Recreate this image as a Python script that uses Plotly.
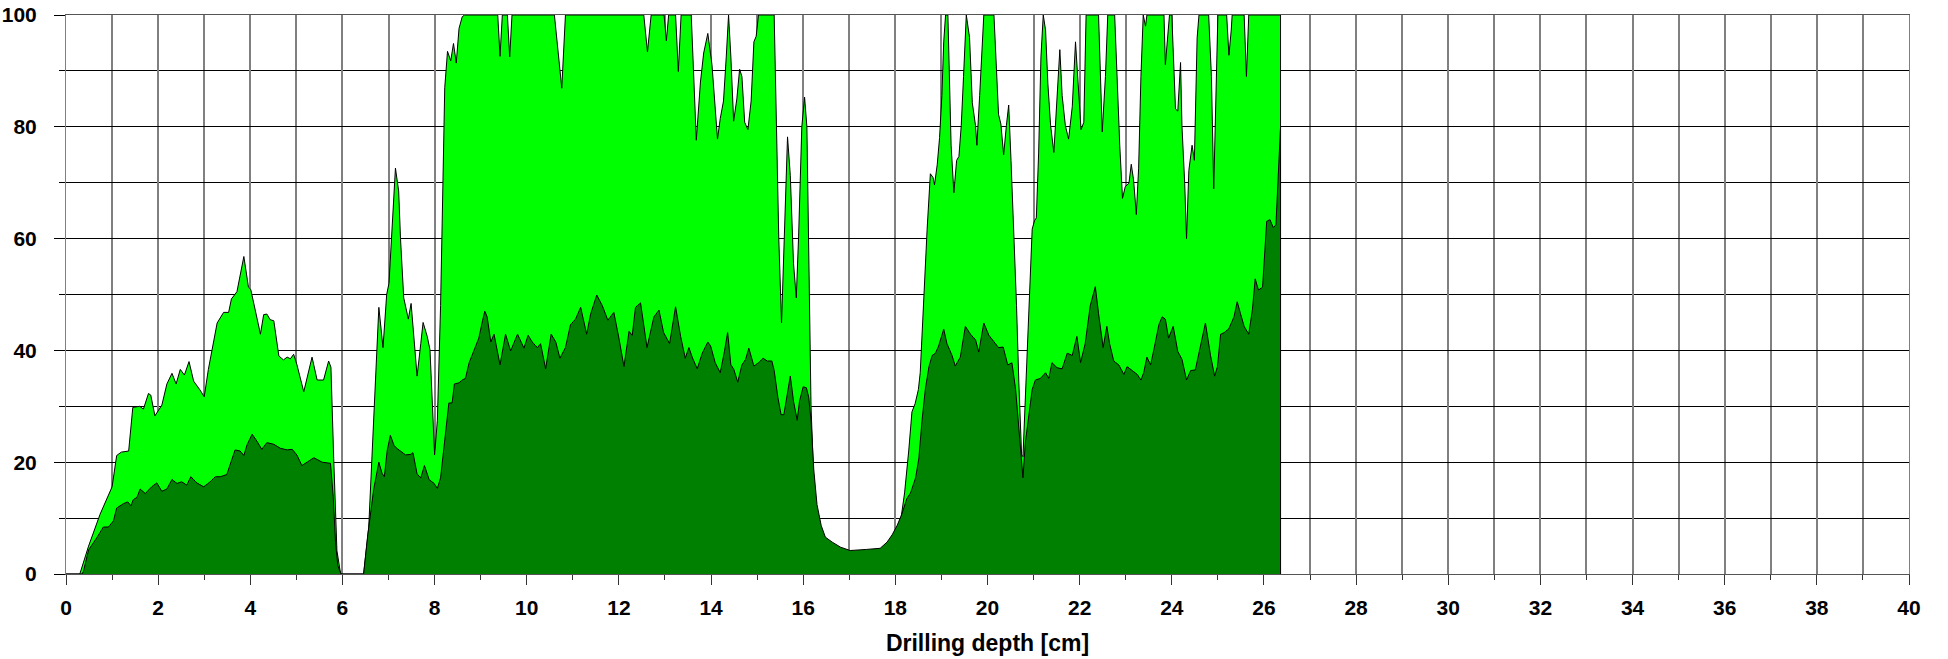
import plotly.graph_objects as go

# Light green series (upper envelope), depth [cm] and value
light_x = [0.0, 0.30, 0.49, 0.74, 1.0, 1.1, 1.2, 1.36, 1.45, 1.6, 1.68, 1.79, 1.84, 1.93, 2.08, 2.19, 2.3, 2.39,
           2.48, 2.57, 2.67, 2.77, 2.91, 3.0, 3.09, 3.28, 3.42, 3.53, 3.59, 3.71, 3.86, 3.96, 4.01, 4.11, 4.22,
           4.29, 4.36, 4.43, 4.51, 4.62, 4.72, 4.8, 4.87, 4.94, 5.01, 5.16, 5.34, 5.45, 5.59, 5.7, 5.75, 5.81,
           5.88, 5.96, 6.46, 6.57, 6.68, 6.79, 6.88, 6.96, 7.01, 7.04, 7.1, 7.15, 7.22, 7.26, 7.33, 7.43, 7.49,
           7.55, 7.62, 7.7, 7.75, 7.84, 7.9, 8.0, 8.06, 8.13, 8.22, 8.28, 8.35, 8.41, 8.47, 8.53, 8.6, 8.65,
           9.37, 9.42, 9.47, 9.58, 9.63, 9.68, 10.6, 10.76, 10.84, 12.54, 12.62, 12.7, 12.98, 13.03, 13.08,
           13.23, 13.29, 13.35, 13.57, 13.68, 13.77, 13.84, 13.93, 14.02, 14.14, 14.2, 14.27, 14.33, 14.38,
           14.43, 14.49, 14.56, 14.62, 14.67, 14.73, 14.8, 14.87, 14.93, 14.98, 15.03, 15.37, 15.42, 15.47,
           15.53, 15.58, 15.66, 15.72, 15.79, 15.85, 15.9, 15.97, 16.03, 16.08, 16.12, 16.17, 16.25, 16.35,
           16.41, 17.82, 17.89, 17.95, 18.02, 18.11, 18.2, 18.29, 18.36, 18.43, 18.5, 18.54, 18.62, 18.69,
           18.76, 18.82, 18.85, 18.91, 18.96, 19.01, 19.05, 19.09, 19.14, 19.18, 19.21, 19.27, 19.33, 19.38,
           19.43, 19.48, 19.54, 19.61, 19.67, 19.74, 19.77, 19.83, 19.88, 19.92, 20.14, 20.19, 20.24, 20.29,
           20.35, 20.41, 20.46, 20.51, 20.57, 20.63, 20.68, 20.74, 20.77, 20.82, 20.9, 20.97, 21.02, 21.06,
           21.11, 21.16, 21.21, 21.26, 21.31, 21.37, 21.44, 21.51, 21.57, 21.62, 21.69, 21.76, 21.84, 21.91,
           21.98, 22.03, 22.09, 22.14, 22.41, 22.49, 22.56, 22.61, 22.76, 22.81, 22.87, 22.93, 22.99, 23.07,
           23.12, 23.17, 23.23, 23.28, 23.33, 23.38, 23.43, 23.46, 23.83, 23.86, 23.9, 23.95, 24.0, 24.08,
           24.13, 24.19, 24.22, 24.28, 24.32, 24.37, 24.44, 24.49, 24.55, 24.59, 24.8, 24.86, 24.91, 24.96,
           25.0, 25.19, 25.24, 25.29, 25.31, 25.57, 25.62, 25.67, 26.36, 26.36]
light_y = [0, 0, 5, 10.7, 15.6, 21.2, 21.8, 22, 29.8, 30, 29.5, 32.3, 32, 28.3, 30.2, 34, 35.9, 34,
           36.6, 35.6, 38, 34.5, 32.9, 31.7, 36.6, 44.9, 46.8, 46.8, 49.2, 50.5, 56.8, 51.3, 50.9, 46.8, 42.9,
           46.4, 46.5, 45.5, 45.3, 39, 38.3, 38.8, 38.5, 39.3, 37.5, 32.6, 38.8, 34.7, 34.7, 38.1, 37, 20.7,
           4.2, 0, 0, 8.3, 27.5, 47.7, 40.5, 50, 52, 56.2, 66, 72.6, 68.5, 60, 49.4, 45.6, 48.4,
           42.5, 35.4, 41.2, 45, 42.5, 40.1, 21.3, 27.5, 48, 87, 93.5, 91.8, 94.9, 91.4, 97.6, 99.7, 100,
           100, 92.6, 100, 100, 92.5, 100, 100, 86.9, 100, 100, 93.4, 100, 100, 95.4, 100,
           100, 89.9, 100, 100, 77.6, 88, 93.2, 96.7, 91.1, 77.8, 81.5, 84.6, 92.5, 100,
           92.5, 81, 85, 90.3, 89, 80.8, 79.5, 84.6, 95.2, 96.2, 100, 100, 80, 60,
           44.9, 59.4, 78.2, 71.3, 55.5, 49.4, 60.3, 80, 85.3, 80, 54.9, 30, 12, 3,
           0, 0, 5, 5.3, 3.9, 9, 14.5, 22, 29, 30.5, 33, 36, 50.8, 61.7,
           71.6, 70.9, 69.6, 73.3, 78.1, 85.6, 95.2, 100, 100, 85.6, 76.7, 68.2, 74, 74.7,
           80.2, 89, 100, 96, 84.3, 80.2, 76.7, 85.6, 94.5, 100, 100, 89.7, 82.2, 80.5,
           75, 80.2, 83.9, 74, 61.7, 48, 34.3, 21.3, 21, 30.9, 48, 61.7, 63.2, 63.7,
           75.3, 92.5, 100, 97.3, 87.7, 80.2, 75.4, 85, 93.8, 85.6, 80.2, 77.8, 83.6, 95.2,
           87, 79.5, 80.8, 100, 100, 79.1, 89, 100, 100, 89, 76.7, 67.2, 69.3, 69.9,
           73.3, 70.5, 64.3, 72.6, 89, 100, 98, 100, 100, 91.1, 94.5, 100, 100, 83.2,
           82.8, 91.5, 80.2, 69.9, 60, 72.2, 76.7, 74, 95.9, 100, 100, 89, 68.9, 89,
           100, 100, 92.8, 97.3, 100, 100, 89, 100, 100, 0]

# Dark green series (lower envelope)
dark_x = [0.0, 0.35, 0.38, 0.49, 0.67, 0.81, 0.92, 1.03, 1.1, 1.25, 1.34, 1.41, 1.46, 1.54, 1.61, 1.72, 1.86,
          1.97, 2.08, 2.19, 2.3, 2.41, 2.51, 2.62, 2.71, 2.84, 2.99, 3.13, 3.24, 3.35, 3.49, 3.57, 3.67, 3.78,
          3.86, 3.93, 4.04, 4.14, 4.25, 4.36, 4.51, 4.65, 4.8, 4.91, 5.01, 5.12, 5.23, 5.38, 5.56, 5.74, 5.8,
          5.85, 5.9, 5.97, 6.46, 6.55, 6.68, 6.79, 6.86, 6.91, 6.97, 7.04, 7.12, 7.19, 7.26, 7.37, 7.48, 7.53,
          7.62, 7.7, 7.78, 7.88, 7.99, 8.06, 8.13, 8.24, 8.31, 8.38, 8.43, 8.53, 8.6, 8.67, 8.75, 8.86, 8.96,
          9.04, 9.09, 9.14, 9.22, 9.29, 9.42, 9.54, 9.65, 9.8, 9.94, 10.03, 10.12, 10.23, 10.3, 10.41, 10.53,
          10.63, 10.72, 10.84, 10.95, 11.06, 11.17, 11.3, 11.39, 11.52, 11.64, 11.76, 11.89, 12.0, 12.11,
          12.22, 12.29, 12.36, 12.47, 12.61, 12.76, 12.87, 12.97, 13.1, 13.23, 13.34, 13.44, 13.52, 13.59,
          13.7, 13.81, 13.93, 13.99, 14.09, 14.2, 14.29, 14.36, 14.43, 14.49, 14.58, 14.67, 14.75, 14.82,
          14.93, 15.03, 15.13, 15.22, 15.32, 15.37, 15.45, 15.52, 15.58, 15.66, 15.72, 15.79, 15.87, 15.92,
          16.0, 16.07, 16.12, 16.17, 16.23, 16.3, 16.39, 16.48, 16.63, 16.81, 17.02, 17.38, 17.67, 17.82,
          17.93, 18.04, 18.14, 18.25, 18.33, 18.44, 18.51, 18.58, 18.65, 18.73, 18.8, 18.87, 18.94, 19.05,
          19.12, 19.23, 19.3, 19.41, 19.52, 19.63, 19.74, 19.81, 19.92, 20.03, 20.14, 20.24, 20.34, 20.44,
          20.53, 20.61, 20.68, 20.73, 20.77, 20.82, 20.9, 20.97, 21.04, 21.15, 21.26, 21.33, 21.4, 21.51,
          21.62, 21.73, 21.84, 21.94, 22.02, 22.12, 22.23, 22.34, 22.41, 22.51, 22.59, 22.65, 22.74, 22.85,
          22.96, 23.03, 23.14, 23.25, 23.33, 23.39, 23.46, 23.54, 23.62, 23.72, 23.79, 23.86, 23.93, 24.03,
          24.13, 24.22, 24.32, 24.41, 24.51, 24.61, 24.73, 24.84, 24.93, 24.99, 25.06, 25.14, 25.24, 25.35,
          25.42, 25.49, 25.57, 25.67, 25.75, 25.81, 25.88, 25.97, 26.06, 26.13, 26.2, 26.26, 26.3, 26.36,
          26.36]
dark_y = [0, 0, 0.5, 4.3, 6.5, 8.4, 8.4, 9.5, 11.8, 12.6, 12.9, 12.2, 13.3, 13.7, 15.2, 14.4, 15.6,
          16.3, 14.8, 15.2, 16.9, 16.2, 16.5, 15.9, 17.4, 16.3, 15.6, 16.5, 17.4, 17.4, 17.8, 19.7, 22.2, 22,
          21.2, 23.1, 25, 23.8, 22.3, 23.5, 23.2, 22.5, 22.2, 22.3, 21.3, 19.4, 20, 20.8, 20, 19.8, 13.8,
          5.6, 1.5, 0, 0, 7, 15.2, 20, 18, 17.4, 22, 24.8, 23, 22.4, 22, 21.3, 21.4, 21.7,
          17.9, 17.2, 19.4, 16.9, 16.2, 15.3, 17.2, 25.4, 30.6, 30.6, 34, 34.2, 34.7, 35, 37.8, 40.1, 42.2,
          45.3, 47, 46, 41.5, 42.9, 37.4, 42.9, 39.9, 42.9, 40.4, 42.7, 41.5, 40.5, 41.2, 36.7, 42.9,
          41.5, 38.6, 40.5, 44.6, 45.6, 47.7, 42.9, 46.6, 49.9, 48, 45.4, 46.8, 42.2, 37.1,
          43.4, 42.7, 47.7, 48.5, 40.5, 46, 47.2, 43.2, 41.2, 47.8, 42.5, 38.6, 40.5, 38.8,
          36.7, 39.5, 41.5, 40.8, 37.8, 36, 39.8, 43.2, 37.4, 36.7, 34.3, 37.4, 38.4, 40.4,
          37.2, 37.8, 38.6, 38.1, 38.1, 36.4, 31.6, 28.5, 28.5, 32.3, 35.4, 30.9, 27.5, 30.9,
          33.5, 33.3, 31.6, 27.5, 18.6, 12.4, 8.7, 6.6, 5.7, 4.8, 4.2, 4.4, 4.6, 5.7,
          7, 8.7, 10.7, 13.5, 14.5, 17.2, 20.7, 27.5, 33, 37.1, 39.1, 39.5, 40.8, 43.8,
          41.2, 39.1, 37.2, 38.8, 44.3, 42.9, 41.9, 39.7, 44.9, 42.7, 41.5, 40.5, 40.6, 37.4,
          37.8, 33, 26.1, 20.7, 17.2, 23.4, 28.9, 33, 34.7, 35, 36, 35, 37.8, 36.9,
          36.7, 39.5, 39.1, 42.5, 37.8, 41.2, 48, 51.4, 46.6, 40.5, 44.3, 41.2, 38.1, 37.4,
          35.7, 37.1, 36.4, 35.7, 34.7, 36, 38.8, 37.4, 40.5, 44.6, 46, 45.6, 42.2, 44.3,
          39.8, 38.4, 34.7, 36.4, 36.5, 40.5, 44.9, 39.1, 35.4, 37.1, 42.9, 43.2, 43.9, 46,
          48.7, 46.6, 44.3, 42.9, 47.3, 52.8, 50.8, 51.3, 63.1, 63.4, 62, 62.4, 70.6, 80,
          0]

x_title = "Drilling depth [cm]"

fig = go.Figure()
fig.add_trace(go.Scatter(x=light_x, y=light_y, mode="lines", fill="tozeroy",
                         fillcolor="#00ff00", line=dict(color="black", width=1),
                         showlegend=False, hoverinfo="skip"))
fig.add_trace(go.Scatter(x=dark_x, y=dark_y, mode="lines", fill="tozeroy",
                         fillcolor="#008000", line=dict(color="black", width=1),
                         showlegend=False, hoverinfo="skip"))

tick_font = dict(family="Liberation Sans, Arial, sans-serif", size=21, color="black", weight="bold")

fig.update_layout(
    width=1948, height=659,
    margin=dict(l=66, r=39, t=15, b=85, autoexpand=False),
    paper_bgcolor="white", plot_bgcolor="white",
    showlegend=False,
    xaxis=dict(
        range=[0, 40], tick0=0, dtick=2, ticks="outside", ticklen=10, tickwidth=1, tickcolor="#333",
        showgrid=True, gridcolor="#808080", gridwidth=2,
        minor=dict(dtick=1, ticks="outside", ticklen=5, tickcolor="#333", showgrid=True,
                   gridcolor="#808080", gridwidth=2),
        showline=True, linecolor="#555", linewidth=1, mirror=True, zeroline=False,
        automargin=False, ticklabelstandoff=5,
        tickfont=tick_font,
        title=dict(text=x_title, font=dict(family="Liberation Sans, Arial, sans-serif", size=23,
                                            color="black", weight="bold"), standoff=16),
    ),
    yaxis=dict(
        range=[0, 100], tick0=0, dtick=20, ticks="outside", ticklen=11, tickwidth=1, tickcolor="black",
        showgrid=True, gridcolor="black", gridwidth=1,
        minor=dict(dtick=10, ticks="outside", ticklen=6, tickcolor="black", showgrid=True,
                   gridcolor="black", gridwidth=1),
        showline=True, linecolor="#808080", linewidth=1, mirror=True, zeroline=False,
        automargin=False, ticklabelstandoff=13,
        tickfont=tick_font,
    ),
)

fig.write_html("out.html", config={"displayModeBar": False},
               post_script="document.body.style.margin='0';document.body.style.overflow='hidden';")
